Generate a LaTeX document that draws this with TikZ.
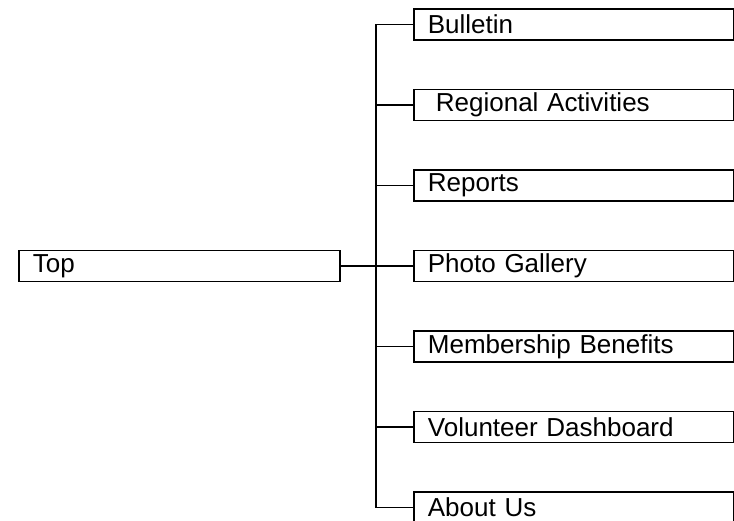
\documentclass[tikz,border=0pt]{standalone}
\usepackage{fontspec}
\setmainfont{Liberation Sans}
\usepackage{tikz}
\usetikzlibrary{positioning}

\begin{document}
\begin{tikzpicture}[x=1pt, y=-1pt, line width=1.8pt,
    page/.style={draw, rectangle, anchor=west, minimum height=31pt, minimum width=320pt,
        text width=292pt, inner xsep=14pt, inner ysep=0pt, align=left,
        font=\fontsize{26}{29}\selectfont}]
    \useasboundingbox (0,0) rectangle (734,521);
    \node[page, minimum width=321pt, text width=293pt] (top) at (18,266) {Top};
    \coordinate (fork) at (376,266);
    \foreach \name/\txt [count=\i from 0] in {bulletin/Bulletin, regional/{\hspace{8pt}Regional Activities},
            reports/Reports, gallery/Photo Gallery, benefits/Membership Benefits,
            dashboard/Volunteer Dashboard, about/About Us}
        \node[page] (\name) at (413, 24.5+80.5*\i) {\txt};
    \draw (top.east) -- (fork);
    \foreach \name in {bulletin, regional, reports, gallery, benefits, dashboard, about}
        \draw (fork) |- (\name.west);
\end{tikzpicture}
\end{document}
